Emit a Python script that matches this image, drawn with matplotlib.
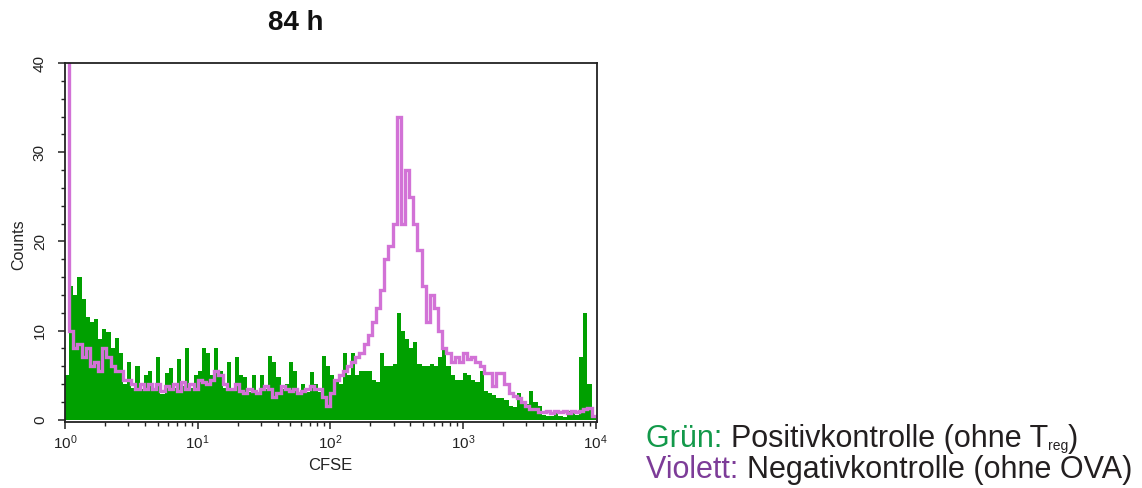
import numpy as np
import matplotlib
matplotlib.use("Agg")
import matplotlib.pyplot as plt
from matplotlib.ticker import FixedLocator, NullFormatter

plt.rcParams['font.family'] = ['Liberation Sans', 'DejaVu Sans']
plt.rcParams['mathtext.fontset'] = 'custom'
plt.rcParams['mathtext.rm'] = 'Liberation Sans'
plt.rcParams['mathtext.it'] = 'Liberation Sans'
plt.rcParams['mathtext.default'] = 'regular'

# CFSE histogram, 128 log-spaced channels between 10^0 and 10^4
n_channels = 128
decades = (0, 4)

# Positive control (without Treg) - filled green histogram
green_counts = [
    5, 15, 14, 16, 13.5, 11.5, 11, 11.3, 9, 10.2, 9.8, 8, 9.2, 7.5, 4, 6.5,
    3.6, 6, 3.5, 5, 5.5, 3.2, 7, 2.9, 5.2, 5.8, 3.6, 6.8, 3.8, 8, 3.6, 5,
    5.5, 8, 7.5, 5, 8, 5.5, 3.6, 6.5, 3.2, 7, 5, 4.8, 3.1, 5, 2.8, 5,
    3.4, 7.2, 6.5, 4.8, 3.4, 4, 6.5, 5.5, 2.8, 4, 3.1, 5.3, 4, 3.1, 7.2, 6,
    5, 4.5, 4, 7.5, 5, 7.5, 5, 5.5, 5.5, 5.5, 4.5, 4.2, 7.5, 6, 6, 6.2,
    12, 10, 9, 8, 8.7, 6.2, 6, 6, 6.2, 6, 7, 7.8, 6, 5, 4.5, 4.5,
    5.2, 5, 4.5, 4.2, 5.5, 3.2, 3, 2.8, 2.4, 2.4, 2.2, 1.5, 1.4, 3, 2, 1.8,
    3.2, 2, 1.5, 0.5, 0.4, 0.4, 0.8, 0.4, 0.3, 1, 1, 0.5, 7, 12, 4, 0.5,
]

# Negative control (without OVA) - violet outline
violet_counts = [
    60, 10, 8, 8.5, 7, 8, 6, 6.5, 5.5, 8, 7, 6, 5.5, 5.5, 4.5, 4.5,
    4, 3.5, 4, 3.5, 4, 3.5, 4, 3.2, 3.8, 3.5, 4, 3.2, 4.2, 3.5, 4, 3.5,
    4.5, 4.2, 4, 4.5, 5.5, 5, 4, 3.5, 3.5, 4, 3.2, 3, 3.5, 3.2, 3, 3.5,
    3.8, 3.5, 2.5, 3, 3.8, 3.5, 3.2, 3.5, 3, 3.2, 3.5, 3.8, 3.5, 3.5, 2.5, 1.5,
    3, 4.5, 5, 5.5, 6, 6.5, 7, 7.5, 8.5, 9.5, 11, 12.5, 14.5, 18, 19.5, 22,
    34, 22, 28, 25, 22, 19, 15, 11, 14, 12.5, 10, 8, 7.5, 6.5, 7, 6.5,
    7.5, 6.8, 7, 6.5, 6, 5.2, 5.2, 3.8, 5.2, 5.2, 4, 3, 2.7, 2.4, 2, 1.5,
    1.2, 1.2, 0.9, 0.9, 1, 0.8, 1, 0.9, 1, 0.8, 1, 0.9, 1, 1.2, 1.3, 0.4,
]

y_ticks = [0, 10, 20, 30, 40]
x_tick_labels = [r'$10^{0}$', r'$10^{1}$', r'$10^{2}$', r'$10^{3}$', r'$10^{4}$']

GREEN = '#00a000'
VIOLET = '#d272d6'

edges = np.logspace(decades[0], decades[1], n_channels + 1)

fig = plt.figure(figsize=(11.42, 4.88), dpi=100)
ax = fig.add_axes([65 / 1142, 66 / 488, 532 / 1142, 359 / 488])

ax.stairs(green_counts, edges, fill=True, color=GREEN, linewidth=0)
ax.stairs(violet_counts, edges, color=VIOLET, linewidth=2.4, baseline=None)

ax.set_xscale('log')
ax.set_xlim(1, 10 ** 4.01)
ax.set_ylim(-0.25, 40)

ax.xaxis.set_major_locator(FixedLocator([10.0 ** k for k in range(5)]))
ax.set_xticklabels(x_tick_labels)
minor_x = [m * 10.0 ** k for k in range(4) for m in range(2, 10)]
ax.xaxis.set_minor_locator(FixedLocator(minor_x))
ax.xaxis.set_minor_formatter(NullFormatter())

ax.yaxis.set_major_locator(FixedLocator(y_ticks))
ax.yaxis.set_minor_locator(FixedLocator(list(range(0, 41, 2))))
ax.set_yticklabels([str(v) for v in y_ticks], rotation=90, va='center')

ax.tick_params(axis='both', which='major', direction='out', length=5, width=1.1,
               color='#222222', labelsize=11, labelcolor='#222222')
ax.tick_params(axis='both', which='minor', direction='out', length=3, width=1.0,
               color='#222222')
ax.tick_params(axis='y', which='major', pad=8)
ax.tick_params(axis='x', which='major', pad=3)

for side in ax.spines.values():
    side.set_linewidth(1.3)
    side.set_color('#222222')

fig.text(19 / 1142, 1 - 245 / 488, 'Counts', rotation=90, ha='center', va='center',
         fontsize=11.5, color='#222222')
fig.text(330 / 1142, 1 - 466 / 488, 'CFSE', ha='center', va='center',
         fontsize=12, color='#222222')
fig.text(296 / 1142, 1 - 23 / 488, '84 h', ha='center', va='center',
         fontsize=20, fontweight='bold', color='#111111')

# Colour key below the right side
key_size = 22
dark = '#231f20'
renderer = fig.canvas.get_renderer()


def draw_line(parts, x0_px, base_px):
    x = x0_px
    for txt, col, size, drop in parts:
        t = fig.text(x / 1142, 1 - (base_px + drop) / 488, txt, fontsize=size,
                     color=col, ha='left', va='baseline')
        bb = t.get_window_extent(renderer=renderer)
        x += bb.width


draw_line([('Grün: ', '#12994a', key_size, 0),
           ('Positivkontrolle (ohne T', dark, key_size, 0),
           ('reg', dark, 10, 3),
           (')', dark, key_size, 0)], 646, 447)
draw_line([('Violett: ', '#7d3c98', key_size, 0),
           ('Negativkontrolle (ohne OVA)', dark, key_size, 0)], 646, 478)

fig.savefig('out.png', dpi=100)
